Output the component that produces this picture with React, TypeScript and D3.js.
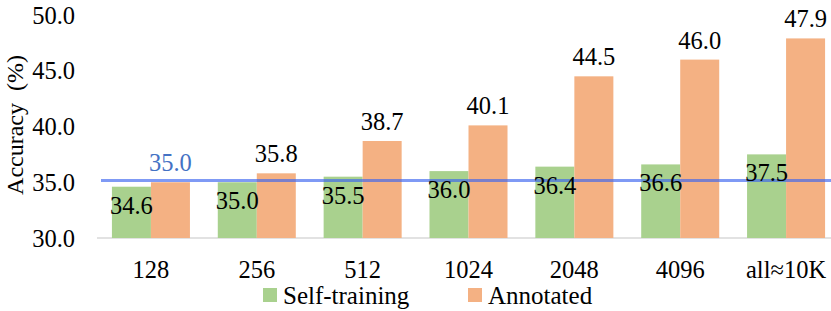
import React from 'react';
import * as d3 from 'd3';

const categories = ['128', '256', '512', '1024', '2048', '4096', 'all≈10K'];
const selfTraining = [34.6, 35.0, 35.5, 36.0, 36.4, 36.6, 37.5];
const annotated = [35.0, 35.8, 38.7, 40.1, 44.5, 46.0, 47.9];
const yTicks = [30, 35, 40, 45, 50];
const baselineValue = 35.15;
const seriesNames = ['Self-training', 'Annotated'];

const width = 831;
const height = 311;
const font = '"Liberation Serif"';
const green = '#a9d18e';
const orange = '#f4b183';
const blue = '#4472c4';

export default function App() {
  const x = d3.scaleBand().domain(categories).range([98, 839]).paddingInner(0.263).paddingOuter(0.1315);
  const sub = d3.scaleBand().domain(seriesNames).range([0, x.bandwidth()]);
  const y = d3.scaleLinear().domain([30, 50]).range([238, 15]);
  const fmt = d3.format('.1f');
  const txt = { fontFamily: font };

  return (
    <svg width={width} height={height} style={{ position: 'absolute', left: 0, top: 0, overflow: 'hidden' }}>
      <line x1={97} x2={width} y1={y(30)} y2={y(30)} stroke="#d9d9d9" strokeWidth={1.5} />
      {yTicks.map(t => (
        <text key={t} x={75} y={y(t)} dy="0.35em" textAnchor="end" fontSize={24.5} fill="#000" style={txt}>{fmt(t)}</text>
      ))}
      <text transform={`translate(23,125) rotate(-90)`} textAnchor="middle" fontSize={24} fill="#000"
        style={{ ...txt, whiteSpace: 'pre' }}>{'Accuracy  (%)'}</text>

      {categories.map((c, i) => {
        const x0 = x(c)!;
        return (
          <g key={c}>
            <rect x={x0 + sub('Self-training')!} y={y(selfTraining[i])} width={sub.bandwidth()}
              height={y(30) - y(selfTraining[i])} fill={green} />
            <rect x={x0 + sub('Annotated')!} y={y(annotated[i])} width={sub.bandwidth()}
              height={y(30) - y(annotated[i])} fill={orange} />
            <text x={x0 + x.bandwidth() / 2} y={269} dy="0.35em" textAnchor="middle" fontSize={24.5} style={txt}>{c}</text>
          </g>
        );
      })}

      <line x1={101} x2={width} y1={y(baselineValue)} y2={y(baselineValue)} stroke="#3a64f0" strokeOpacity={0.65} strokeWidth={3} />

      {categories.map((c, i) => {
        const x0 = x(c)!;
        return (
          <g key={c + '-labels'}>
            <text x={x0 + sub('Self-training')! + sub.bandwidth() / 2} y={y(selfTraining[i]) + 27}
              textAnchor="middle" fontSize={24.5} fill="#000" style={txt}>{fmt(selfTraining[i])}</text>
            <text x={x0 + sub('Annotated')! + sub.bandwidth() / 2} y={y(annotated[i]) - 11}
              textAnchor="middle" fontSize={24.5} fill={i === 0 ? blue : '#000'} style={txt}>{fmt(annotated[i])}</text>
          </g>
        );
      })}

      <rect x={263} y={288} width={14} height={14} fill={green} />
      <text x={283} y={295} dy="0.35em" fontSize={25} style={txt}>{seriesNames[0]}</text>
      <rect x={468} y={288} width={14} height={14} fill={orange} />
      <text x={488} y={295} dy="0.35em" fontSize={25} style={txt}>{seriesNames[1]}</text>
    </svg>
  );
}
